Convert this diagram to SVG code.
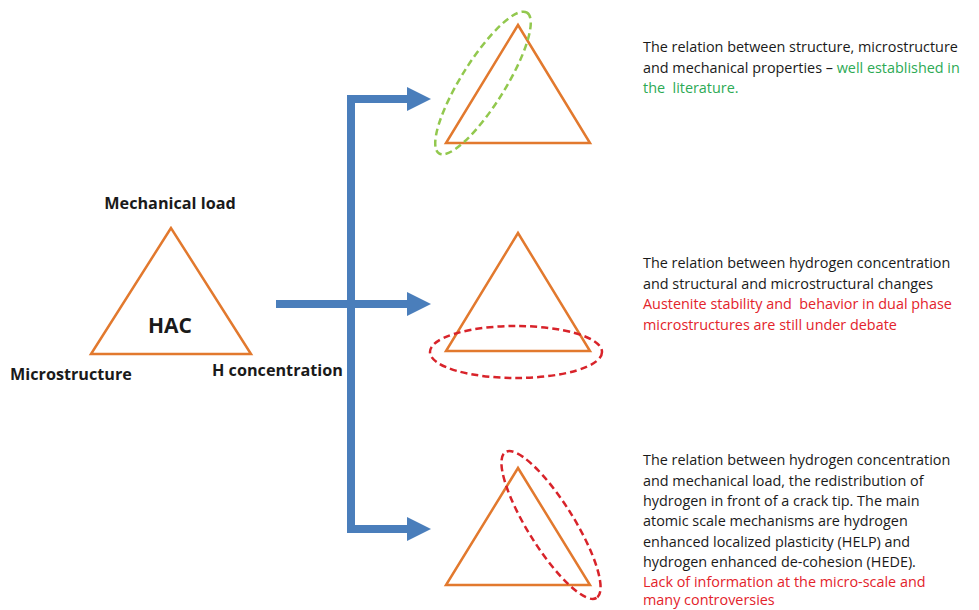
<svg xmlns="http://www.w3.org/2000/svg" width="979" height="610" viewBox="0 0 979 610">
<defs>
<style>
.tri{fill:none;stroke:#E2792E;stroke-width:2.5;stroke-linejoin:miter}
.arr{stroke:#4A7EBB;stroke-width:8;fill:none}
.lbl{font-family:"Open Sans","Liberation Sans",sans-serif;font-weight:bold;font-size:16.2px;fill:#1a1a1a}
.txt{font-family:"Open Sans","Liberation Sans",sans-serif;font-size:14.4px;fill:#1a1a1a}
.g{fill:#2DAA55}
.r{fill:#E3232B}
.ell{fill:none;stroke-width:2.5;stroke-dasharray:7 4}
</style>
<marker id="ah" markerUnits="userSpaceOnUse" markerWidth="24" markerHeight="24" refX="0" refY="12" orient="auto" viewBox="0 0 24 24">
<polygon points="0,0 24,12 0,24" fill="#4A7EBB"/>
</marker>
</defs>
<rect width="979" height="610" fill="#ffffff"/>

<g id="hac">
<polygon class="tri" points="171,228 91,354 251,354"/>
<text class="lbl" x="170" y="209" text-anchor="middle">Mechanical load</text>
<text class="lbl" x="170" y="333" text-anchor="middle" style="font-size:21px">HAC</text>
<text class="lbl" x="10" y="380">Microstructure</text>
<text class="lbl" x="212" y="376">H concentration</text>
</g>

<g id="connectors">
<line class="arr" x1="351" y1="95" x2="351" y2="533"/>
<line class="arr" x1="347" y1="99" x2="407" y2="99" marker-end="url(#ah)"/>
<line class="arr" x1="276" y1="304" x2="407" y2="304" marker-end="url(#ah)"/>
<line class="arr" x1="347" y1="529" x2="407" y2="529" marker-end="url(#ah)"/>
</g>

<g id="top">
<polygon class="tri" points="518,25 446,143 590,143"/>
<ellipse class="ell" stroke="#92C84E" cx="483" cy="83" rx="83" ry="22" transform="rotate(-58 483 83)"/>
<text class="txt" x="643" y="52">The relation between structure, microstructure</text>
<text class="txt" x="643" y="72.5">and mechanical properties – <tspan class="g">well established in</tspan></text>
<text class="txt g" x="643" y="93">the&#160; literature.</text>
</g>

<g id="middle">
<polygon class="tri" points="518,233 446,351 590,351"/>
<ellipse class="ell" stroke="#D8232A" cx="516" cy="352" rx="86" ry="26"/>
<text class="txt" x="643" y="268">The relation between hydrogen concentration</text>
<text class="txt" x="643" y="288.5">and structural and microstructural changes</text>
<text class="txt r" x="643" y="309">Austenite stability and&#160; behavior in dual phase</text>
<text class="txt r" x="643" y="329.5">microstructures are still under debate</text>
</g>

<g id="bottom">
<polygon class="tri" points="518,468 446,585 590,585"/>
<ellipse class="ell" stroke="#D8232A" cx="551" cy="525" rx="86" ry="23" transform="rotate(58 551 525)"/>
<text class="txt" x="643" y="465">The relation between hydrogen concentration</text>
<text class="txt" x="643" y="485.5">and mechanical load, the redistribution of</text>
<text class="txt" x="643" y="506">hydrogen in front of a crack tip. The main</text>
<text class="txt" x="643" y="526">atomic scale mechanisms are hydrogen</text>
<text class="txt" x="643" y="546.5">enhanced localized plasticity (HELP) and</text>
<text class="txt" x="643" y="566.5">hydrogen enhanced de-cohesion (HEDE).</text>
<text class="txt r" x="643" y="586.5">Lack of information at the micro-scale and</text>
<text class="txt r" x="643" y="605">many controversies</text>
</g>
</svg>
